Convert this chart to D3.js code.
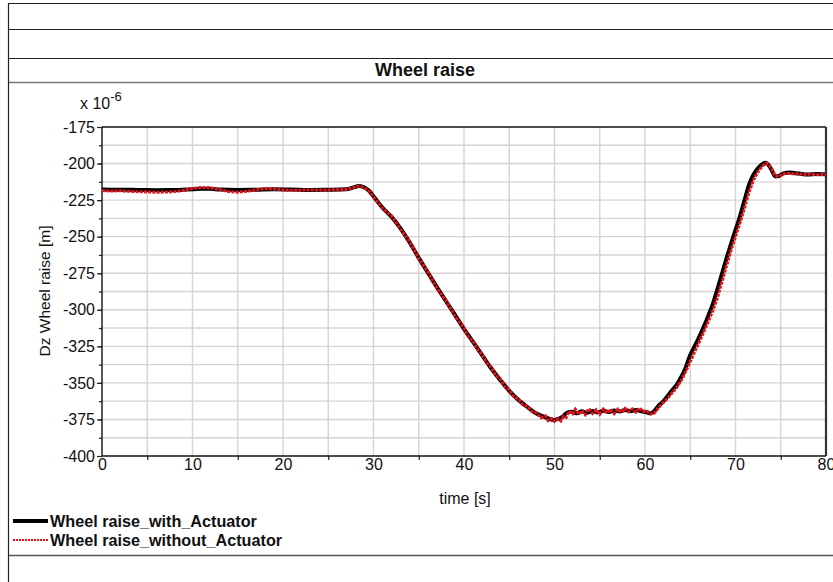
<!DOCTYPE html>
<html>
<head>
<meta charset="utf-8">
<script src="https://cdn.jsdelivr.net/npm/d3@7"></script>
<style>
  html, body { margin: 0; padding: 0; background: #fff; }
  svg { display: block; font-family: Arial, "Liberation Sans", sans-serif; }
</style>
</head>
<body>
<svg id="chart" width="833" height="582"></svg>
<script>
// Wheel raise over time, with and without the actuator (values in 1e-6 m)
const timeWith = [0,2,4,6,8,10,11,12,13,15,17,19,21,23,25,27,27.8,28.4,29,29.5,30,30.5,31,32,33,34,35,36,37,38,39,40,41,42,43,44,45,46,47,48,48.7,49.3,49.9,50.4,50.9,51.4,51.9,52.5,53,53.6,54.2,54.8,55.4,56,56.6,57.2,57.8,58.4,59,59.6,60.1,60.6,61,61.5,62,62.5,63,63.5,64,64.4,65,65.5,66,66.5,67,67.5,68,68.5,69,69.5,70,70.5,71,71.5,72,72.5,73,73.3,73.6,74,74.4,74.8,75.3,76,77,78,79,80];
const raiseWith = [-217.8,-217.9,-218.0,-218.2,-218.1,-217.6,-217.2,-217.3,-217.8,-218.0,-217.9,-217.6,-217.8,-218.0,-217.9,-217.6,-216.3,-215.3,-216.4,-218.6,-222.4,-226.4,-230.2,-236.5,-244.5,-254.0,-264.5,-274.5,-284.5,-294.0,-303.5,-313.0,-322.0,-331.0,-340.0,-348.0,-355.5,-361.5,-366.5,-371.0,-372.8,-374.2,-375.3,-374.6,-373.0,-370.3,-369.8,-370.8,-369.4,-370.4,-369.3,-370.2,-369.0,-369.9,-368.8,-369.6,-368.5,-369.4,-368.5,-369.5,-369.9,-370.8,-369.5,-365.5,-362.8,-359.0,-355.0,-351.4,-346.0,-341.0,-331.0,-324.8,-318.5,-311.5,-304.0,-296.0,-286.0,-275.5,-265.0,-255.0,-245.5,-236.0,-225.0,-214.5,-207.5,-203.0,-200.3,-199.4,-200.5,-204.5,-208.8,-208.5,-206.7,-206.2,-206.8,-207.5,-207.2,-207.4];

const timeWithout = [0,1,2,3,4,5,6,7,8,9,10,11,12,13,14,15,16,17,18,19,20,21,22,23,24,25,26,27,27.8,28.4,29,29.5,30,30.5,31,32,33,34,35,36,37,38,39,40,40.5,41,41.5,42,42.5,43,43.5,44,44.5,45,45.5,46,46.5,47,47.5,48,48.5,49,49.3,49.7,50,50.4,50.7,51,51.3,51.6,52,52.3,52.7,53,53.4,53.8,54.2,54.6,55,55.4,55.8,56.2,56.6,57,57.4,57.8,58.2,58.6,59,59.4,59.8,60.2,60.6,61,61.5,62,62.5,63,63.5,64,64.5,65,65.5,66,66.5,67,67.5,68,68.5,69,69.5,70,70.5,71,71.5,72,72.5,73,73.4,73.7,74,74.4,74.8,75.3,76,76.5,77,77.5,78,79,80];
const raiseWithout = [-218.5,-218.8,-218.6,-219.0,-219.2,-219.4,-219.6,-219.5,-219.2,-218.3,-217.0,-216.4,-216.6,-217.8,-219.2,-219.6,-219.0,-218.0,-217.1,-217.4,-218.0,-218.3,-218.2,-218.0,-218.1,-218.0,-217.9,-217.7,-216.4,-215.4,-216.5,-218.8,-222.6,-226.9,-230.6,-235.8,-244.9,-253.4,-264.9,-274.0,-285.2,-293.5,-304.3,-312.4,-318.5,-321.4,-327.2,-330.6,-336.1,-339.2,-344.8,-347.2,-352.6,-354.8,-359.4,-360.8,-364.9,-366.0,-369.6,-370.4,-373.8,-372.6,-375.8,-374.4,-376.4,-374.5,-376.0,-372.8,-373.6,-369.4,-371.2,-368.0,-371.6,-369.0,-371.8,-367.6,-370.9,-368.4,-371.5,-367.9,-370.6,-368.2,-371.0,-368.0,-370.2,-367.4,-369.8,-367.8,-370.0,-367.2,-369.6,-369.0,-371.4,-370.8,-367.0,-363.5,-360.6,-356.8,-353.2,-348.4,-342.2,-335.5,-328.6,-322.0,-315.0,-308.0,-300.6,-291.8,-281.0,-270.2,-259.5,-250.0,-240.6,-230.2,-219.6,-211.2,-205.4,-201.6,-199.8,-200.6,-203.8,-208.5,-209.0,-207.0,-206.6,-207.2,-206.9,-207.6,-207.3,-207.6,-207.5];

const xTicks = [0,10,20,30,40,50,60,70,80];
const yTicks = [-400,-375,-350,-325,-300,-275,-250,-225,-200,-175];
const seriesNames = ["Wheel raise_with_Actuator", "Wheel raise_without_Actuator"];

const svg = d3.select("#chart");
const W = 833, H = 582;
const plot = { left: 102, right: 826, top: 127, bottom: 456 };

const x = d3.scaleLinear().domain([0, 80]).range([plot.left, plot.right]);
const y = d3.scaleLinear().domain([-400, -175]).range([plot.bottom, plot.top]);

// page frame: header rows, title row, legend separator
const frame = svg.append("g");
frame.append("line").attr("x1", 8).attr("x2", W).attr("y1", 3.5).attr("y2", 3.5).attr("stroke", "#222").attr("stroke-width", 1.2);
frame.append("line").attr("x1", 8).attr("x2", W).attr("y1", 29.5).attr("y2", 29.5).attr("stroke", "#222").attr("stroke-width", 1.2);
frame.append("line").attr("x1", 8).attr("x2", W).attr("y1", 58.5).attr("y2", 58.5).attr("stroke", "#222").attr("stroke-width", 1.2);
frame.append("line").attr("x1", 8).attr("x2", W).attr("y1", 82.5).attr("y2", 82.5).attr("stroke", "#777").attr("stroke-width", 1.6);
frame.append("line").attr("x1", 8).attr("x2", W).attr("y1", 555.5).attr("y2", 555.5).attr("stroke", "#555").attr("stroke-width", 1.4);
frame.append("line").attr("x1", 8.5).attr("x2", 8.5).attr("y1", 3).attr("y2", H).attr("stroke", "#222").attr("stroke-width", 1.2);

svg.append("text")
  .attr("x", 425).attr("y", 76)
  .attr("text-anchor", "middle")
  .attr("font-size", 18).attr("font-weight", "bold")
  .attr("fill", "#111")
  .text("Wheel raise");

// grid
const grid = svg.append("g").attr("stroke", "#d4d4d4").attr("stroke-width", 1.4);
grid.selectAll("line.v").data(d3.range(5, 80, 5)).join("line")
  .attr("x1", d => x(d)).attr("x2", d => x(d))
  .attr("y1", plot.top).attr("y2", plot.bottom);
grid.selectAll("line.h").data(d3.range(-387.5, -175, 12.5)).join("line")
  .attr("x1", plot.left).attr("x2", plot.right)
  .attr("y1", d => y(d)).attr("y2", d => y(d));

// axes
const fontSize = 16;
const plain = d => String(d);
const yAxis = svg.append("g")
  .attr("transform", `translate(${plot.left},0)`)
  .call(d3.axisLeft(y).tickValues(yTicks).tickSize(5).tickPadding(2).tickFormat(plain));
const yMinor = svg.append("g")
  .attr("transform", `translate(${plot.left},0)`)
  .call(d3.axisLeft(y).tickValues(d3.range(-387.5, -175, 12.5)).tickSize(3).tickFormat(""));
const xAxis = svg.append("g")
  .attr("transform", `translate(0,${plot.bottom})`)
  .call(d3.axisBottom(x).tickValues(xTicks).tickSize(0).tickPadding(3).tickFormat(plain));
const xMinor = svg.append("g")
  .attr("transform", `translate(0,${plot.bottom})`)
  .call(d3.axisBottom(x).tickValues(d3.range(5, 80, 10)).tickSize(4).tickFormat(""));

[yAxis, yMinor, xAxis, xMinor].forEach(g => {
  g.select(".domain").remove();
  g.selectAll("line").attr("stroke", "#222").attr("stroke-width", 1.2);
  g.selectAll("text").attr("font-size", fontSize).attr("fill", "#111")
    .attr("font-family", "Arial, 'Liberation Sans', sans-serif");
});

// plot frame
svg.append("line").attr("x1", plot.left).attr("x2", plot.right).attr("y1", plot.top).attr("y2", plot.top).attr("stroke", "#111").attr("stroke-width", 1.4);
svg.append("line").attr("x1", plot.left).attr("x2", plot.left).attr("y1", plot.top).attr("y2", plot.bottom).attr("stroke", "#111").attr("stroke-width", 1.4);
svg.append("line").attr("x1", plot.left).attr("x2", plot.right).attr("y1", plot.bottom).attr("y2", plot.bottom).attr("stroke", "#111").attr("stroke-width", 1.4);
svg.append("line").attr("x1", plot.right).attr("x2", plot.right).attr("y1", plot.top).attr("y2", plot.bottom).attr("stroke", "#333").attr("stroke-width", 2.2);

// scale factor label
const sf = svg.append("text").attr("x", 80).attr("y", 109).attr("font-size", fontSize).attr("fill", "#111");
sf.append("tspan").text("x 10");
sf.append("tspan").attr("dy", -8).attr("font-size", 13).text("-6");

// axis titles
svg.append("text")
  .attr("transform", "translate(50,291) rotate(-90)")
  .attr("text-anchor", "middle")
  .attr("font-size", 15.5).attr("fill", "#111")
  .text("Dz Wheel raise [m]");
svg.append("text")
  .attr("x", 465).attr("y", 504)
  .attr("text-anchor", "middle")
  .attr("font-size", fontSize).attr("fill", "#111")
  .text("time [s]");

// series
const line = d3.line().x(d => x(d[0])).y(d => y(d[1]));
const withData = timeWith.map((t, i) => [t, raiseWith[i]]);
const withoutData = timeWithout.map((t, i) => [t, raiseWithout[i]]);

svg.append("path").datum(withData)
  .attr("d", line.curve(d3.curveMonotoneX))
  .attr("fill", "none").attr("stroke", "#000").attr("stroke-width", 4)
  .attr("stroke-linejoin", "round");
svg.append("path").datum(withoutData)
  .attr("d", line.curve(d3.curveLinear))
  .attr("fill", "none").attr("stroke", "#e8121a").attr("stroke-width", 3)
  .attr("stroke-dasharray", "3,1.2");

// legend
const legend = svg.append("g");
legend.append("line").attr("x1", 13).attr("x2", 48).attr("y1", 521).attr("y2", 521)
  .attr("stroke", "#000").attr("stroke-width", 4);
legend.append("line").attr("x1", 13).attr("x2", 48).attr("y1", 540).attr("y2", 540)
  .attr("stroke", "#e8121a").attr("stroke-width", 2).attr("stroke-dasharray", "2,1");
legend.selectAll("text").data(seriesNames).join("text")
  .attr("x", 50).attr("y", (d, i) => 527 + i * 19)
  .attr("font-size", 16.2).attr("font-weight", "bold").attr("fill", "#111")
  .text(d => d);
</script>
</body>
</html>
